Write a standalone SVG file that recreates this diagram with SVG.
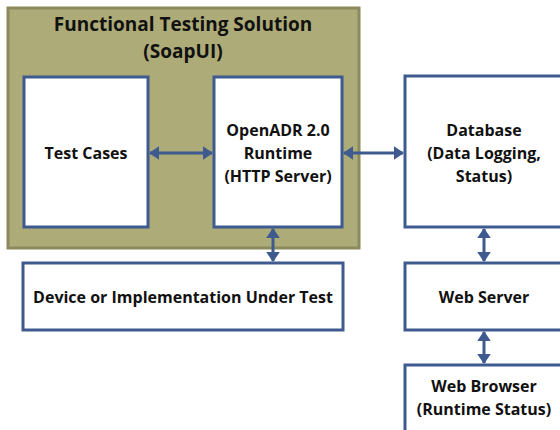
<svg xmlns="http://www.w3.org/2000/svg" width="560" height="430" viewBox="0 0 560 430">
<defs>
<style>
.box{fill:#fff;stroke:#3e5a8e;stroke-width:3}
.t{font-family:"Open Sans","Liberation Sans",sans-serif;font-weight:bold;font-size:16px;fill:#111;text-anchor:middle}
.c{stroke:#3e5a8e;stroke-width:3;fill:none;marker-start:url(#ah);marker-end:url(#ah)}
</style>
<marker id="ah" viewBox="0 0 10 10" refX="9" refY="5" markerWidth="3.4" markerHeight="4.6" orient="auto-start-reverse" markerUnits="strokeWidth" preserveAspectRatio="none">
<path d="M0,0 L10,5 L0,10 z" fill="#3e5a8e"/>
</marker>
</defs>
<rect width="560" height="430" fill="#fff"/>
<g id="container">
<rect x="8" y="8" width="351" height="240" fill="#adab78" stroke="#8b8a5c" stroke-width="3"/>
<text class="t" x="183" y="31" style="font-size:19px">Functional Testing Solution</text>
<text class="t" x="183" y="58" style="font-size:19px">(SoapUI)</text>
</g>
<g id="testcases">
<rect class="box" x="24" y="77" width="124" height="150"/>
<text class="t" x="86" y="159">Test Cases</text>
</g>
<g id="runtime">
<rect class="box" x="214" y="77" width="128" height="150"/>
<text class="t" x="278" y="136">OpenADR 2.0</text>
<text class="t" x="278" y="159">Runtime</text>
<text class="t" x="278" y="182">(HTTP Server)</text>
</g>
<g id="database">
<rect class="box" x="405" y="76" width="160" height="151"/>
<text class="t" x="484" y="136">Database</text>
<text class="t" x="484" y="159">(Data Logging,</text>
<text class="t" x="484" y="182">Status)</text>
</g>
<g id="device">
<rect class="box" x="23" y="263" width="320" height="67"/>
<text class="t" x="183" y="303">Device or Implementation Under Test</text>
</g>
<g id="webserver">
<rect class="box" x="405" y="263" width="160" height="67"/>
<text class="t" x="484" y="303">Web Server</text>
</g>
<g id="webbrowser">
<rect class="box" x="405" y="365" width="160" height="70"/>
<text class="t" x="484" y="392">Web Browser</text>
<text class="t" x="484" y="415">(Runtime Status)</text>
</g>
<g id="connectors">
<line class="c" x1="150" y1="153" x2="212" y2="153"/>
<line class="c" x1="344" y1="153" x2="403" y2="153"/>
<line class="c" x1="273" y1="229" x2="273" y2="261"/>
<line class="c" x1="484" y1="229" x2="484" y2="261"/>
<line class="c" x1="484" y1="332" x2="484" y2="363"/>
</g>
</svg>
